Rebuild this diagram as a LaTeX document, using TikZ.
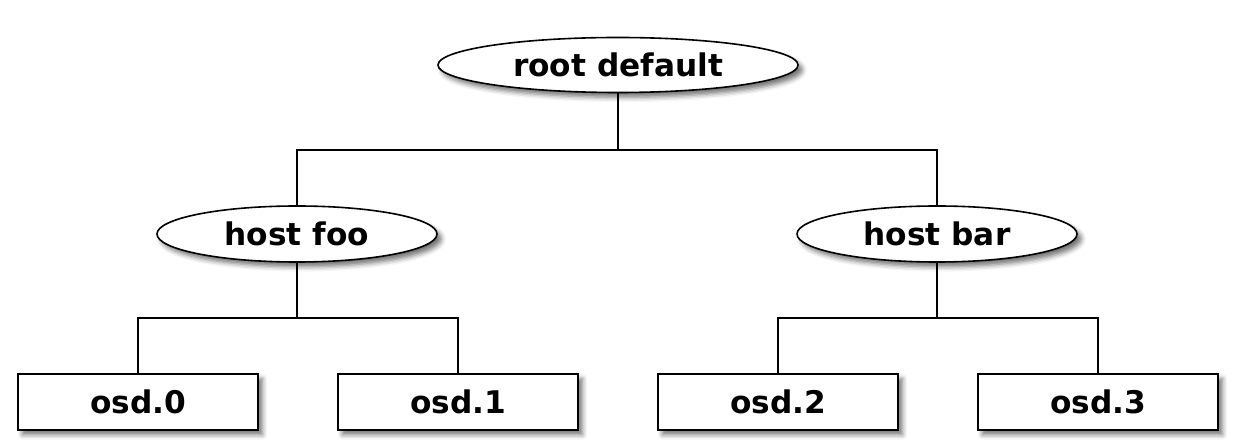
\documentclass[tikz,border=0pt]{standalone}
\usepackage{fontspec}
\setsansfont{DejaVu Sans}
\usetikzlibrary{shapes.geometric}
\usetikzlibrary{shadows.blur}

\begin{document}
\begin{tikzpicture}[x = 0.5pt, y = -0.5pt, font=\sffamily\bfseries\fontsize{15.6}{18}\selectfont]
	\tikzstyle{shadowStyle} = [blur shadow={shadow xshift=2.2pt, shadow yshift=-2.4pt, shadow blur radius=2.4pt, shadow opacity=55}]
	\tikzstyle{hostStyle} = [shape = ellipse, minimum width = 140pt, minimum height = 28pt, inner sep = 0pt, draw, line width = 0.8pt, fill = white, shadowStyle]
	\tikzstyle{rootStyle} = [hostStyle, minimum width = 180pt, minimum height = 27.5pt]
	\tikzstyle{osdStyle} = [shape = rectangle, minimum width = 120pt, minimum height = 28pt, inner sep = 0pt, draw, line width = 0.8pt, fill = white, shadowStyle]
	\tikzstyle{treeEdge} = [draw, line width = 0.7pt]
	\useasboundingbox (0, 0) rectangle (1257, 448);
	\node[rootStyle] (root) at (618, 65) {root default};
	\node[hostStyle] (foo) at (297, 234) {host foo};
	\node[hostStyle] (bar) at (937, 234) {host bar};
	\node[osdStyle] (osd0) at (138, 402) {osd.0};
	\node[osdStyle] (osd1) at (458, 402) {osd.1};
	\node[osdStyle] (osd2) at (778, 402) {osd.2};
	\node[osdStyle] (osd3) at (1098, 402) {osd.3};
	\coordinate (rootsplit) at (618, 150);
	\coordinate (foosplit) at (297, 318);
	\coordinate (barsplit) at (937, 318);
	\path[treeEdge] (root) -- (rootsplit) -| (foo);
	\path[treeEdge] (rootsplit) -| (bar);
	\path[treeEdge] (foo) -- (foosplit) -| (osd0);
	\path[treeEdge] (foosplit) -| (osd1);
	\path[treeEdge] (bar) -- (barsplit) -| (osd2);
	\path[treeEdge] (barsplit) -| (osd3);
\end{tikzpicture}
\end{document}
